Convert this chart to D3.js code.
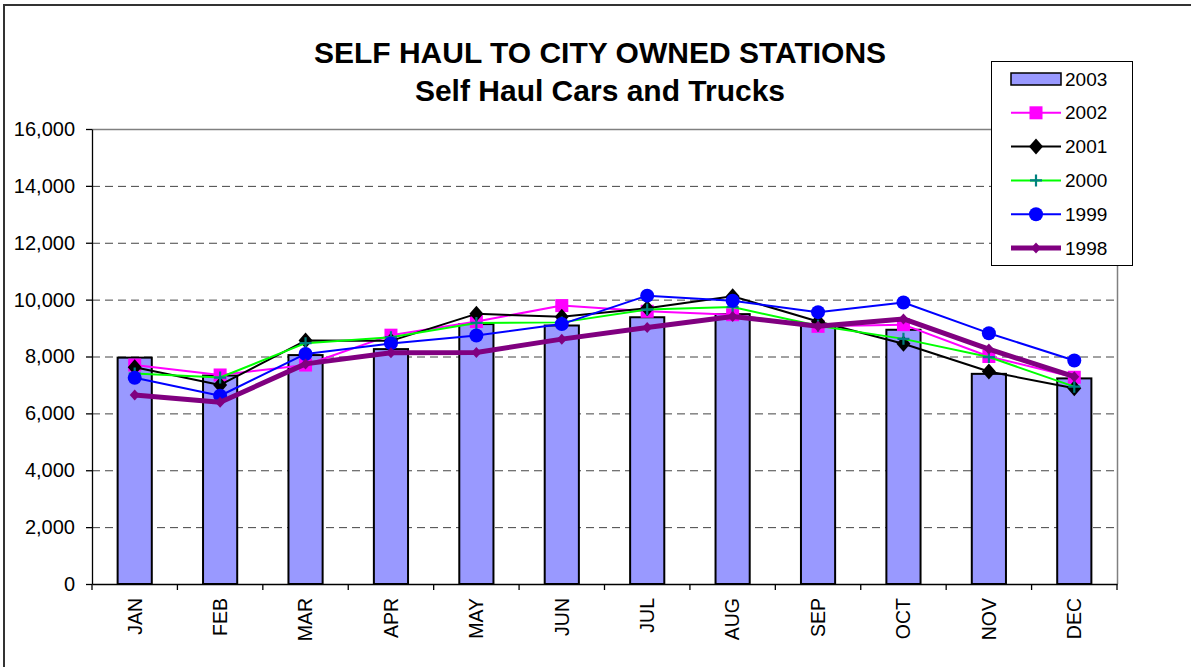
<!DOCTYPE html>
<html>
<head>
<meta charset="utf-8">
<script src="https://cdn.jsdelivr.net/npm/d3@7"></script>
<style>
  body { margin: 0; background: #fff; }
  svg { display: block; font-family: Arial, "Liberation Sans", sans-serif; }
</style>
</head>
<body>
<div id="chart"></div>
<script>
/*
  Self haul combo chart
*/

var months = ["JAN", "FEB", "MAR", "APR", "MAY", "JUN", "JUL", "AUG", "SEP", "OCT", "NOV", "DEC"];
var bars2003 = [7960, 7330, 8050, 8260, 9140, 9090, 9380, 9490, 9140, 8940, 7390, 7230];
var line2002 = [7700, 7350, 7700, 8750, 9230, 9790, 9590, 9470, 9060, 9120, 8000, 7270];
var line2001 = [7620, 7000, 8560, 8550, 9500, 9400, 9700, 10120, 9230, 8450, 7470, 6880];
var line2000 = [7400, 7260, 8470, 8680, 9180, 9200, 9650, 9740, 9080, 8620, 7980, 6940];
var line1999 = [7250, 6620, 8090, 8460, 8740, 9140, 10140, 9960, 9560, 9900, 8820, 7860];
var line1998 = [6650, 6390, 7740, 8130, 8140, 8610, 9020, 9410, 9060, 9320, 8260, 7290];
var yTicks = [0, 2000, 4000, 6000, 8000, 10000, 12000, 14000, 16000];
var titleLines = ["SELF HAUL TO CITY OWNED STATIONS", "Self Haul Cars and Trucks"];

var W = 1191, H = 667;
var plot = {left: 92, top: 129, right: 1117, bottom: 584};

var series = [
  {name: "2002", values: line2002, color: "#ff00ff", width: 2, marker: "square", mcolor: "#ff00ff"},
  {name: "2001", values: line2001, color: "#000000", width: 2, marker: "diamond", mcolor: "#000000"},
  {name: "2000", values: line2000, color: "#00ff00", width: 2, marker: "plus", mcolor: "#008080"},
  {name: "1999", values: line1999, color: "#0000ff", width: 2, marker: "circle", mcolor: "#0000ff"},
  {name: "1998", values: line1998, color: "#800080", width: 5, marker: "smalldiamond", mcolor: "#800080"}
];

var svg = d3.select("#chart").append("svg")
  .attr("width", W)
  .attr("height", H);

//Outer frame
svg.append("rect")
  .attr("x", 4).attr("y", 5)
  .attr("width", W + 10).attr("height", H + 10)
  .style("fill", "#fff")
  .style("stroke", "#333")
  .style("stroke-width", 2);

var x = d3.scaleBand().domain(months).range([plot.left, plot.right]);
var y = d3.scaleLinear().domain([0, 16000]).range([plot.bottom, plot.top]);

//Gridlines
svg.append("g").selectAll("line")
  .data(yTicks.filter(function(d){ return d > 0 && d < 16000; }))
  .enter().append("line")
  .attr("x1", plot.left).attr("x2", plot.right)
  .attr("y1", function(d){ return y(d) + 0.5; })
  .attr("y2", function(d){ return y(d) + 0.5; })
  .style("stroke", "#444")
  .style("stroke-dasharray", "8,5");

//Plot area border (top / right)
svg.append("path")
  .attr("d", "M" + plot.left + "," + (plot.top + 0.5) + "H" + (plot.right + 0.5) + "V" + plot.bottom)
  .style("fill", "none")
  .style("stroke", "#808080")
  .style("stroke-width", 1.5);

//Bars for 2003
var barW = x.bandwidth() * 0.4;
svg.append("g").selectAll("rect")
  .data(bars2003)
  .enter().append("rect")
  .attr("x", function(d, i){ return x(months[i]) + (x.bandwidth() - barW) / 2; })
  .attr("y", function(d){ return y(d); })
  .attr("width", barW)
  .attr("height", function(d){ return y(0) - y(d); })
  .style("fill", "#9999ff")
  .style("stroke", "#000")
  .style("stroke-width", 2);

function cx(i){ return x(months[i]) + x.bandwidth() / 2; }

function drawMarker(g, type, color, px, py){
  if(type == "square"){
    g.append("rect").attr("x", px - 6.5).attr("y", py - 6.5).attr("width", 13).attr("height", 13)
      .style("fill", color);
  } else if(type == "diamond"){
    g.append("path").attr("d", "M" + px + "," + (py - 8) + "L" + (px + 7) + "," + py + "L" + px + "," + (py + 8) + "L" + (px - 7) + "," + py + "Z")
      .style("fill", color);
  } else if(type == "smalldiamond"){
    g.append("path").attr("d", "M" + px + "," + (py - 5.5) + "L" + (px + 5) + "," + py + "L" + px + "," + (py + 5.5) + "L" + (px - 5) + "," + py + "Z")
      .style("fill", color);
  } else if(type == "circle"){
    g.append("circle").attr("cx", px).attr("cy", py).attr("r", 7)
      .style("fill", color);
  } else if(type == "plus"){
    g.append("path").attr("d", "M" + (px - 6) + "," + py + "H" + (px + 6) + "M" + px + "," + (py - 6) + "V" + (py + 6))
      .style("stroke", color).style("stroke-width", 2.2).style("fill", "none");
  }
}

//Lines and markers
var line = d3.line()
  .x(function(d, i){ return cx(i); })
  .y(function(d){ return y(d); });

series.forEach(function(s){
  var g = svg.append("g");
  g.append("path")
    .datum(s.values)
    .attr("d", line)
    .style("fill", "none")
    .style("stroke", s.color)
    .style("stroke-width", s.width)
    .style("stroke-linejoin", "round");
  s.values.forEach(function(v, i){
    drawMarker(g, s.marker, s.mcolor, cx(i), y(v));
  });
});

//Y axis
var yAxis = svg.append("g")
  .attr("transform", "translate(" + plot.left + ",0)")
  .call(d3.axisLeft(y).tickValues(yTicks).tickSize(6).tickSizeOuter(0).tickPadding(11).tickFormat(d3.format(",")));
yAxis.selectAll("text").style("font-size", "20px").style("fill", "#000").style("font-family", "Arial, 'Liberation Sans', sans-serif");
yAxis.selectAll("line, path").style("stroke", "#000").style("stroke-width", 1.3);

//X axis
var xAxis = svg.append("g")
  .attr("transform", "translate(0," + plot.bottom + ")")
  .call(d3.axisBottom(x).tickSize(0).tickSizeOuter(0));
xAxis.select("path").style("stroke", "#000").style("stroke-width", 1.3);
xAxis.selectAll("text")
  .attr("transform", "translate(0,14) rotate(-90)")
  .attr("y", 0)
  .attr("x", 0)
  .attr("dy", "0.35em")
  .style("text-anchor", "end")
  .style("font-size", "19.5px")
  .style("fill", "#000")
  .style("font-family", "Arial, 'Liberation Sans', sans-serif");
xAxis.selectAll(".boundary")
  .data(months.concat(["end"]))
  .enter().append("line")
  .attr("class", "boundary")
  .attr("x1", function(d, i){ return i < months.length ? x(d) : plot.right; })
  .attr("x2", function(d, i){ return i < months.length ? x(d) : plot.right; })
  .attr("y1", 0).attr("y2", 6)
  .style("stroke", "#000")
  .style("stroke-width", 1.3);

//Title
svg.append("g").selectAll("text")
  .data(titleLines)
  .enter().append("text")
  .attr("x", 600)
  .attr("y", function(d, i){ return 63 + i * 38; })
  .style("text-anchor", "middle")
  .style("font-size", "30px")
  .style("font-weight", "bold")
  .text(function(d){ return d; });

//Legend
var legend = svg.append("g").attr("transform", "translate(991,61)");
legend.append("rect")
  .attr("x", 0.5).attr("y", 0.5)
  .attr("width", 141).attr("height", 204)
  .style("fill", "#fff")
  .style("stroke", "#000")
  .style("stroke-width", 1);

var legendItems = [{name: "2003", bar: true}].concat(series);
legendItems.forEach(function(s, i){
  var ly = 18 + i * 33.8;
  if(s.bar){
    legend.append("rect")
      .attr("x", 20).attr("y", ly - 6).attr("width", 50).attr("height", 12)
      .style("fill", "#9999ff").style("stroke", "#000").style("stroke-width", 1.5);
  } else {
    legend.append("line")
      .attr("x1", 20).attr("x2", 70).attr("y1", ly).attr("y2", ly)
      .style("stroke", s.color).style("stroke-width", s.width);
    drawMarker(legend, s.marker, s.mcolor, 45, ly);
  }
  legend.append("text")
    .attr("x", 74).attr("y", ly)
    .attr("dy", "0.35em")
    .style("font-size", "19px")
    .text(s.name);
});
</script>
</body>
</html>
